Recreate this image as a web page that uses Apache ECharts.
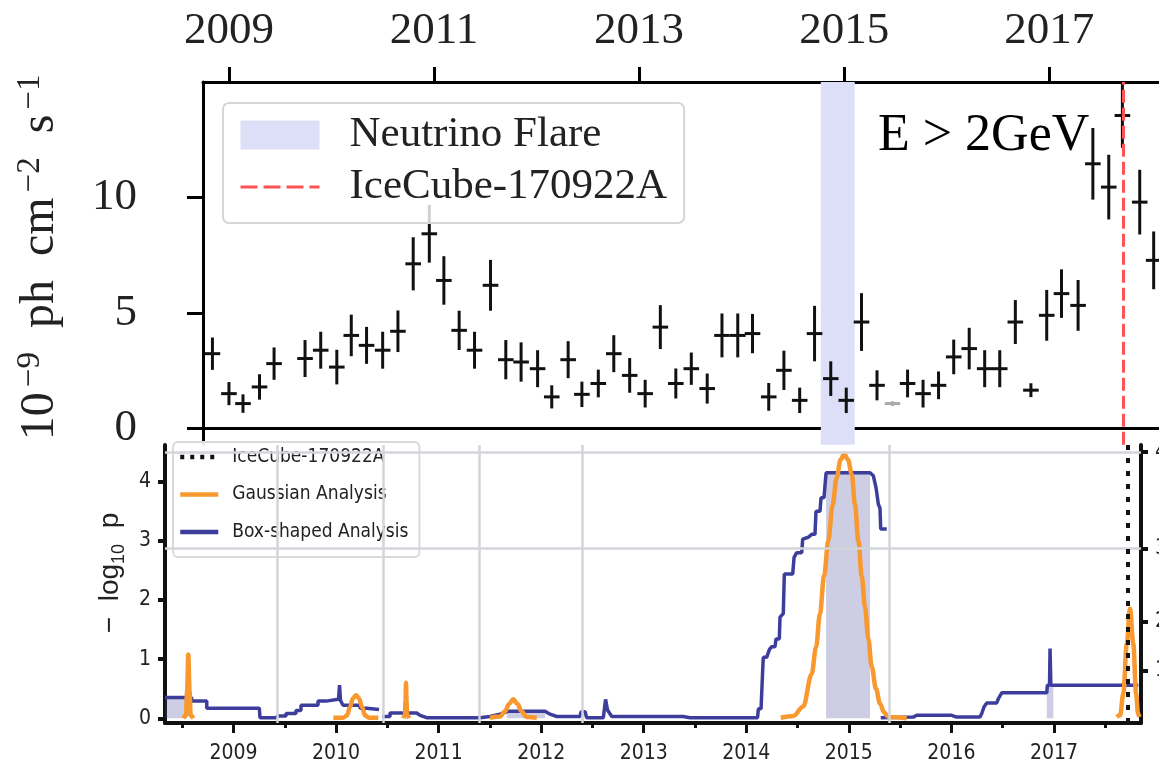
<!DOCTYPE html>
<html>
<head>
<meta charset="utf-8">
<title>TXS 0506+056 light curve and neutrino flare search</title>
<script src="https://cdn.jsdelivr.net/npm/echarts@6/dist/echarts.min.js"></script>
<style>
  html, body { margin: 0; padding: 0; background: #fff; }
  #chart { width: 1159px; height: 774px; }
</style>
</head>
<body>
<div id="chart"></div>
<script>
// ---------- Fermi-LAT light curve, E > 2 GeV (56-day bins) ----------
const fluxYears = [
  2008.839, 2009.000, 2009.137, 2009.298, 2009.440, 2009.742, 2009.895, 2010.052, 2010.193, 2010.342,
  2010.499, 2010.648, 2010.797, 2010.954, 2011.096, 2011.245, 2011.395, 2011.551, 2011.700, 2011.849,
  2012.010, 2012.148, 2012.308, 2012.442, 2012.602, 2012.753, 2012.908, 2013.059, 2013.207, 2013.358,
  2013.509, 2013.664, 2013.808, 2013.962, 2014.106, 2014.264, 2014.412, 2014.566, 2014.711, 2014.869,
  2015.020, 2015.169, 2015.320, 2015.618, 2015.769, 2015.920, 2016.068, 2016.219, 2016.370, 2016.517,
  2016.669, 2016.821, 2016.975, 2017.119, 2017.281, 2017.425, 2017.580, 2017.713, 2017.882, 2018.018
];
const fluxValues = [
  3.24, 1.51, 1.08, 1.80, 2.81, 3.03, 3.39, 2.66, 4.03, 3.60,
  3.39, 4.21, 7.13, 8.43, 6.41, 4.25, 3.39, 6.20, 2.98, 2.88,
  2.59, 1.37, 2.98, 1.48, 1.95, 3.24, 2.30, 1.51, 4.39, 1.95,
  2.59, 1.73, 4.03, 4.03, 4.11, 1.37, 2.52, 1.22, 4.11, 2.16,
  1.22, 4.61, 1.87, 1.95, 1.51, 1.87, 3.10, 3.46, 2.59, 2.59,
  4.61, 1.66, 4.90, 5.84, 5.33, 11.46, 10.45, 13.55, 9.80, 7.28
];
const fluxErrors = [
  0.70, 0.50, 0.40, 0.55, 0.70, 0.80, 0.80, 0.75, 0.90, 0.80,
  0.80, 0.90, 1.15, 1.25, 1.05, 0.85, 0.80, 1.10, 0.85, 0.85,
  0.80, 0.50, 0.80, 0.55, 0.60, 0.80, 0.75, 0.60, 0.95, 0.65,
  0.70, 0.65, 0.95, 0.95, 0.85, 0.60, 0.85, 0.55, 1.20, 0.75,
  0.55, 1.25, 0.65, 0.60, 0.60, 0.60, 0.75, 0.90, 0.80, 0.80,
  0.95, 0.30, 1.10, 1.05, 1.10, 1.55, 1.40, 1.40, 1.40, 1.25
];
// low-significance bin drawn in grey
const lowTsYears = [2015.471];
const lowTsValues = [1.08];
const lowTsErrors = [0.10];

const flareStart = 2014.772;
const flareEnd = 2015.103;
const alertYear = 2017.72;           // IceCube-170922A
const topYearTicks = [2009, 2011, 2013, 2015, 2017];
const fluxTicks = [0, 5, 10];

// ---------- neutrino time-dependent search ----------
const boxYears = [
  2008.332, 2008.592, 2008.592, 2008.739, 2008.739, 2009.252, 2009.258, 2009.414, 2009.434, 2009.512,
  2009.512, 2009.609, 2009.609, 2009.658, 2009.658, 2009.824, 2009.824, 2009.902, 2009.902, 2010.024,
  2010.034, 2010.043, 2010.068, 2010.234, 2010.234, 2010.299, 2010.299, 2010.419, null,
  2010.448, 2010.526, 2010.526, 2010.786, 2010.819, 2010.884, 2011.404, 2011.501, 2011.599, 2011.680,
  2012.038, 2012.086, 2012.152, 2012.379, 2012.389, 2012.428, 2012.444, 2012.606, 2012.628, 2012.647,
  2012.688, 2013.383, 2013.452, 2014.110, 2014.118, 2014.144, 2014.160, 2014.166, 2014.199, 2014.225,
  2014.248, 2014.280, 2014.290, 2014.322, 2014.329, 2014.361, 2014.371, 2014.453, 2014.466, 2014.492,
  2014.541, 2014.550, 2014.605, 2014.638, 2014.670, 2014.680, 2014.719, 2014.729, 2014.758, 2014.778,
  2015.207, 2015.239, 2015.265, 2015.288, 2015.304, 2015.311, 2015.370, null,
  2015.311, 2015.629, 2015.662, 2016.003, 2016.052, 2016.279, 2016.296, 2016.318, 2016.345, 2016.442,
  2016.458, 2016.491, 2016.930, 2016.936, 2016.957, 2016.962, 2016.970, 2017.823
];
const boxValues = [
  0.35, 0.35, 0.29, 0.29, 0.17, 0.17, 0.01, 0.01, 0.04, 0.04,
  0.08, 0.08, 0.13, 0.13, 0.22, 0.22, 0.29, 0.29, 0.32, 0.32,
  0.56, 0.30, 0.22, 0.22, 0.17, 0.17, 0.15, 0.15, null,
  0.03, 0.03, 0.09, 0.09, 0.05, 0.01, 0.01, 0.03, 0.07, 0.12,
  0.12, 0.07, 0.03, 0.03, 0.11, 0.11, 0.01, 0.01, 0.32, 0.14,
  0.03, 0.03, 0.01, 0.01, 0.16, 0.16, 0.81, 1.03, 1.03, 1.16,
  1.21, 1.21, 1.34, 1.34, 1.71, 1.77, 2.44, 2.44, 2.72, 2.80,
  2.80, 3.03, 3.06, 3.11, 3.11, 3.50, 3.50, 3.73, 3.73, 4.15,
  4.15, 4.10, 3.90, 3.62, 3.55, 3.20, 3.20, null,
  0.01, 0.02, 0.05, 0.05, 0.02, 0.02, 0.08, 0.19, 0.26, 0.26,
  0.33, 0.43, 0.43, 0.56, 0.56, 1.18, 0.56, 0.56
];
const gaussYears = [
  2008.510, 2008.537, 2008.547, 2008.559, 2008.572, 2008.582, 2008.608, null,
  2009.973, 2010.071, 2010.107, 2010.136, 2010.165, 2010.195, 2010.224, 2010.253, 2010.282, 2010.321, 2010.412, null,
  2010.656, 2010.672, 2010.677, 2010.682, 2010.687, 2010.692, 2010.714, null,
  2011.501, 2011.599, 2011.648, 2011.687, 2011.728, 2011.769, 2011.808, 2011.859, 2011.957, null,
  2014.336, 2014.459, 2014.556, 2014.638, 2014.680, 2014.719, 2014.758, 2014.800, 2014.841, 2014.882,
  2014.919, 2014.956, 2014.992, 2015.028, 2015.061, 2015.093, 2015.126, 2015.158, 2015.190, 2015.223,
  2015.265, 2015.304, 2015.343, 2015.385, 2015.565, null,
  2017.612, 2017.645, 2017.677, 2017.710, 2017.742, 2017.774, 2017.801, 2017.820, 2017.833
];
const gaussValues = [
  0.00, 0.05, 0.45, 1.08, 0.45, 0.05, 0.00, null,
  0.01, 0.01, 0.05, 0.19, 0.34, 0.39, 0.34, 0.19, 0.05, 0.01, 0.01, null,
  0.00, 0.05, 0.30, 0.60, 0.30, 0.05, 0.00, null,
  0.01, 0.03, 0.12, 0.24, 0.32, 0.24, 0.12, 0.02, 0.01, null,
  0.01, 0.04, 0.20, 0.75, 1.20, 1.77, 2.40, 3.00, 3.60, 4.07,
  4.37, 4.47, 4.37, 4.13, 3.60, 3.00, 2.40, 1.88, 1.35, 0.87,
  0.50, 0.25, 0.10, 0.02, 0.00, null,
  0.02, 0.05, 0.42, 1.26, 1.85, 1.26, 0.42, 0.08, 0.02
];
// best-fit box time windows
const boxWindowStart = [2008.332, 2011.664, 2014.778, 2016.930];
const boxWindowEnd = [2008.544, 2012.038, 2015.207, 2016.994];
const boxWindowHeight = [0.35, 0.12, 4.15, 0.56];

const bottomYearTicks = [2009, 2010, 2011, 2012, 2013, 2014, 2015, 2016, 2017];
const halfYearTicks = [2008.5, 2009.5, 2010.5, 2011.5, 2012.5, 2013.5, 2014.5, 2015.5, 2016.5, 2017.5];
const logPTicks = [0, 1, 2, 3, 4];
// -log10 p of one-sided 1..4 sigma
const sigmaLevels = [0.80, 1.64, 2.87, 4.50];
const sigmaLabels = ['1', '2', '3', '4'];
const sigmaGridLevels = [2.87, 4.50];
const gridYears = [2009.434, 2010.458, 2011.404, 2012.405, 2015.395];

// ---------- styling ----------
const SERIF = '"Liberation Serif", "Times New Roman", serif';
const NARROW = '"Liberation Sans Narrow", "DejaVu Sans Condensed", "Liberation Sans", sans-serif';
const SANS = '"Liberation Sans", Arial, sans-serif';
const BLUE = '#3d3e9c';
const ORANGE = '#f8982f';
const ALERT_RED = '#ff5252';
const HALF_BIN = 0.076;

function pairs(xs, ys) {
  return xs.map((x, i) => (x === null ? ['-', '-'] : [x, ys[i]]));
}
function crossRenderer(color) {
  return function (params, api) {
    const x = api.value(0), y = api.value(1), e = api.value(2);
    const top = api.coord([x, y + e]);
    const bot = api.coord([x, y - e]);
    const l = api.coord([x - HALF_BIN, y]);
    const r = api.coord([x + HALF_BIN, y]);
    const st = { stroke: color, lineWidth: 3 };
    return {
      type: 'group',
      children: [
        { type: 'line', shape: { x1: top[0], y1: top[1], x2: bot[0], y2: bot[1] }, style: st },
        { type: 'line', shape: { x1: l[0], y1: l[1], x2: r[0], y2: r[1] }, style: st }
      ]
    };
  };
}
const intLabel = v => String(Math.round(v));
// legend entries for line series: show only the stroke, no marker
const hideMarker = { opacity: 0 };

const chart = echarts.init(document.getElementById('chart'), null, { renderer: 'canvas' });

const option = {
  animation: false,
  backgroundColor: '#fff',
  title: {
    text: 'E > 2GeV',
    left: 878, top: 110, padding: 0,
    textStyle: { fontFamily: SERIF, fontSize: 52, fontWeight: 'normal', color: '#000' }
  },
  grid: [
    { left: 203, right: -8, top: 82, bottom: 329.3, outerBoundsMode: 'none' },
    { left: 165, right: 18, top: 445, bottom: 51, outerBoundsMode: 'none' }
  ],
  legend: [
    {
      orient: 'vertical', left: 223, top: 103,
      padding: [10, 17, 14, 16],
      itemWidth: 79, itemHeight: 29, itemGap: 8,
      selectedMode: false,
      backgroundColor: 'rgba(255,255,255,0.8)',
      borderColor: '#d6d6d6', borderWidth: 2, borderRadius: 6,
      textStyle: { fontFamily: SERIF, fontSize: 43, lineHeight: 44, color: '#222', padding: [0, 0, 0, 25] },
      data: [
        { name: 'Neutrino Flare', icon: 'rect', itemStyle: { color: '#dddff8' } },
        { name: 'IceCube-170922A', itemStyle: hideMarker,
          lineStyle: { color: ALERT_RED, width: 3, type: [17, 6] } }
      ]
    },
    {
      orient: 'vertical', left: 173, top: 442,
      padding: [4, 11, 14, 5],
      itemWidth: 38, itemHeight: 14, itemGap: 15.5,
      selectedMode: false,
      backgroundColor: 'rgba(255,255,255,0.92)',
      borderColor: '#dadada', borderWidth: 2, borderRadius: 5,
      textStyle: { fontFamily: NARROW, fontSize: 19, lineHeight: 22, color: '#222', padding: [0, 0, 0, 9] },
      formatter: name => (name === 'IceCube-170922A alert' ? 'IceCube-170922A' : name),
      data: [
        { name: 'IceCube-170922A alert', itemStyle: hideMarker,
          lineStyle: { color: '#111', width: 4.5, type: [4, 6] } },
        { name: 'Gaussian Analysis', itemStyle: hideMarker, lineStyle: { width: 4.5 } },
        { name: 'Box-shaped Analysis', itemStyle: hideMarker, lineStyle: { width: 4.5 } }
      ]
    }
  ],
  xAxis: [
    {
      gridIndex: 0, type: 'value', position: 'top',
      min: 2008.747, max: 2018.148,
      axisLine: { onZero: false, lineStyle: { color: '#000', width: 3 } },
      axisTick: { customValues: topYearTicks, length: 15, lineStyle: { color: '#000', width: 3 } },
      axisLabel: { customValues: topYearTicks, margin: 28, formatter: intLabel,
        fontFamily: SERIF, fontSize: 45, color: '#222' },
      splitLine: { show: false }
    },
    {
      gridIndex: 0, type: 'value', position: 'bottom',
      min: 2008.747, max: 2018.148,
      axisLine: { onZero: true, lineStyle: { color: '#000', width: 3 } },
      axisTick: { show: false }, axisLabel: { show: false }, splitLine: { show: false }
    },
    {
      gridIndex: 1, type: 'value', position: 'bottom',
      min: 2008.332, max: 2017.849,
      axisLine: { onZero: false, lineStyle: { color: '#111', width: 4 } },
      axisTick: { customValues: bottomYearTicks, length: 10, lineStyle: { color: '#111', width: 3 } },
      axisLabel: { customValues: bottomYearTicks, margin: 20, formatter: intLabel,
        fontFamily: NARROW, fontSize: 21, color: '#222' },
      splitLine: { show: false }
    },
    {
      gridIndex: 1, type: 'value', position: 'bottom',
      min: 2008.332, max: 2017.849,
      axisLine: { show: false, onZero: false },
      axisTick: { customValues: halfYearTicks, length: 5, lineStyle: { color: '#111', width: 3 } },
      axisLabel: { show: false }, splitLine: { show: false }
    }
  ],
  yAxis: [
    {
      gridIndex: 0, type: 'value', position: 'left',
      min: -0.7, max: 15,
      axisLine: { show: true, onZero: false, lineStyle: { color: '#000', width: 3 } },
      axisTick: { show: true, customValues: fluxTicks, length: 16, lineStyle: { color: '#000', width: 3 } },
      axisLabel: { customValues: fluxTicks, margin: 66, fontFamily: SERIF, fontSize: 45, color: '#222' },
      splitLine: { show: false },
      name: '{b|10}{s|−9}{b|  ph  cm}{s|−2}{b|  s}{s|−1}',
      nameLocation: 'middle', nameRotate: 90, nameGap: 139,
      nameTextStyle: {
        padding: [0, 0, 0, 12],
        rich: {
          b: { fontFamily: SERIF, fontSize: 48, lineHeight: 50, verticalAlign: 'bottom', color: '#222' },
          s: { fontFamily: SERIF, fontSize: 33, lineHeight: 33, verticalAlign: 'top', color: '#222',
            padding: [0, 0, 0, 5] }
        }
      }
    },
    {
      gridIndex: 1, type: 'value', position: 'left',
      min: -0.08, max: 4.62,
      axisLine: { show: true, onZero: false, lineStyle: { color: '#111', width: 4 } },
      axisTick: { show: true, customValues: logPTicks, length: 7, lineStyle: { color: '#111', width: 4 } },
      axisLabel: { customValues: logPTicks, margin: 14, fontFamily: NARROW, fontSize: 21, color: '#222' },
      splitLine: { show: false },
      name: '{m|−  log}{sub|10}{m|  p}',
      nameLocation: 'middle', nameRotate: 90, nameGap: 28,
      nameTextStyle: {
        padding: [0, 0, 0, 22],
        rich: {
          m: { fontFamily: SANS, fontSize: 28, lineHeight: 32, verticalAlign: 'top', color: '#222' },
          sub: { fontFamily: SANS, fontSize: 18, lineHeight: 18, verticalAlign: 'bottom', color: '#222' }
        }
      }
    },
    {
      gridIndex: 1, type: 'value', position: 'right',
      min: -0.08, max: 4.62,
      axisLine: { show: true, onZero: false, lineStyle: { color: '#111', width: 4 } },
      axisTick: { show: true, customValues: sigmaLevels, length: 7, lineStyle: { color: '#111', width: 4 } },
      axisLabel: { customValues: sigmaLevels, margin: 14, fontFamily: NARROW, fontSize: 21, color: '#222',
        formatter: v => sigmaLabels[sigmaLevels.indexOf(v)] || '' },
      splitLine: { show: false }
    }
  ],
  series: [
    // ----- light-curve panel -----
    {
      name: 'Neutrino Flare', type: 'line', xAxisIndex: 0, yAxisIndex: 0, data: [],
      color: '#dddff8', z: 1, silent: true,
      markArea: {
        silent: true,
        itemStyle: { color: '#dddff8' },
        data: [[{ xAxis: flareStart }, { xAxis: flareEnd }]]
      }
    },
    {
      name: 'IceCube-170922A', type: 'line', xAxisIndex: 0, yAxisIndex: 0, data: [],
      symbol: 'none', z: 2, silent: true,
      lineStyle: { color: ALERT_RED, width: 3, type: [13, 5] },
      itemStyle: { color: ALERT_RED },
      markLine: {
        silent: true, symbol: ['none', 'none'], label: { show: false },
        lineStyle: { color: ALERT_RED, width: 3, type: [13, 5] },
        data: [{ xAxis: alertYear }]
      }
    },
    {
      name: 'Flux', type: 'custom', xAxisIndex: 0, yAxisIndex: 0, z: 3,
      renderItem: crossRenderer('#111'),
      encode: { x: 0, y: 1 },
      data: fluxYears.map((t, i) => [t, fluxValues[i], fluxErrors[i]])
    },
    {
      name: 'Low TS', type: 'custom', xAxisIndex: 0, yAxisIndex: 0, z: 3,
      renderItem: crossRenderer('#aaaaaa'),
      encode: { x: 0, y: 1 },
      data: lowTsYears.map((t, i) => [t, lowTsValues[i], lowTsErrors[i]])
    },
    // ----- significance panel -----
    {
      name: 'grid', type: 'line', xAxisIndex: 2, yAxisIndex: 1, data: [], z: 1, silent: true,
      markLine: {
        silent: true, symbol: ['none', 'none'], label: { show: false },
        lineStyle: { color: '#d2d5d9', width: 2.5, type: 'solid' },
        data: gridYears.map(v => ({ xAxis: v })).concat(sigmaGridLevels.map(v => ({ yAxis: v })))
      },
      markArea: {
        silent: true,
        itemStyle: { color: 'rgba(70,70,150,0.27)' },
        data: boxWindowStart.map((s, i) => [
          { xAxis: s, yAxis: 0 },
          { xAxis: boxWindowEnd[i], yAxis: boxWindowHeight[i] }
        ])
      }
    },
    {
      name: 'Box-shaped Analysis', type: 'line', xAxisIndex: 2, yAxisIndex: 1, z: 3,
      symbol: 'none', connectNulls: false,
      color: BLUE,
      lineStyle: { color: BLUE, width: 3.5 },
      data: pairs(boxYears, boxValues)
    },
    {
      name: 'Gaussian Analysis', type: 'line', xAxisIndex: 2, yAxisIndex: 1, z: 4,
      symbol: 'none', connectNulls: false, smooth: 0.35, smoothMonotone: 'x',
      color: ORANGE,
      lineStyle: { color: ORANGE, width: 4.5 },
      data: pairs(gaussYears, gaussValues)
    },
    {
      name: 'IceCube-170922A alert', type: 'line', xAxisIndex: 2, yAxisIndex: 1, data: [],
      symbol: 'none', z: 5, silent: true,
      color: '#111',
      lineStyle: { color: '#111', width: 4, type: [5, 8] },
      markLine: {
        silent: true, symbol: ['none', 'none'], label: { show: false },
        lineStyle: { color: '#111', width: 4, type: [5, 8] },
        data: [{ xAxis: alertYear }]
      }
    }
  ]
};
chart.setOption(option);
</script>
</body>
</html>
